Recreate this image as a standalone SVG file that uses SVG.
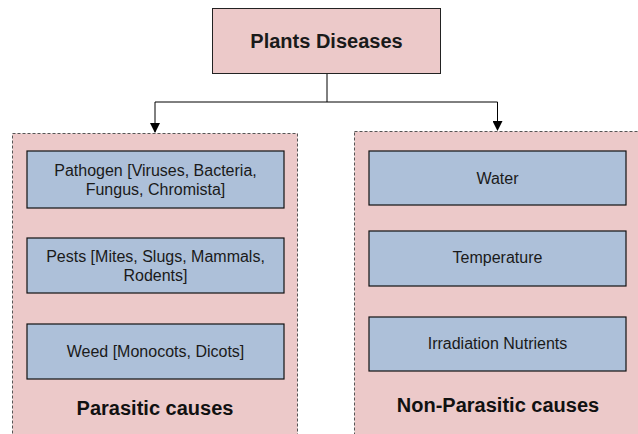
<svg xmlns="http://www.w3.org/2000/svg" width="638" height="434" viewBox="0 0 638 434">
<style>
.title{font-family:"Liberation Sans",Arial,sans-serif;font-weight:bold;font-size:20px;fill:#1a1a1a;text-anchor:middle}
.grp{fill:#ecc9c9;stroke:#555;stroke-width:1;stroke-dasharray:3,2}
.item{fill:#adc0d9;stroke:#111;stroke-width:1.2}
.t{font-family:"Liberation Sans",Arial,sans-serif;font-size:16px;fill:#1a1a1a;text-anchor:middle}
.lbl{font-family:"Liberation Sans",Arial,sans-serif;font-weight:bold;font-size:20px;fill:#111;text-anchor:middle}
.conn{fill:none;stroke:#000;stroke-width:1}
</style>
<defs>
<marker id="arr" markerWidth="10" markerHeight="10" refX="9" refY="5" orient="auto" markerUnits="userSpaceOnUse">
<path d="M0,0 L10,5 L0,10 z" fill="#000"/>
</marker>
</defs>
<g id="connectors">
<path class="conn" d="M327,73 V102 H155 V132" marker-end="url(#arr)"/>
<path class="conn" d="M327,102 H497.5 V130" marker-end="url(#arr)"/>
</g>
<g id="root">
<rect x="212.5" y="8.5" width="228" height="65" fill="#ecc9c9" stroke="#222" stroke-width="1"/>
<text class="title" x="326.5" y="48">Plants Diseases</text>
</g>
<g id="parasitic">
<rect class="grp" x="12.5" y="133.5" width="285" height="310"/>
<text class="lbl" x="155" y="415">Parasitic causes</text>
</g>
<g id="pathogen">
<rect class="item" x="27" y="151" width="257" height="57"/>
<text class="t" x="155.5" y="176">Pathogen [Viruses, Bacteria,</text>
<text class="t" x="155.5" y="195">Fungus, Chromista]</text>
</g>
<g id="pests">
<rect class="item" x="27" y="238" width="257" height="55"/>
<text class="t" x="155.5" y="262">Pests [Mites, Slugs, Mammals,</text>
<text class="t" x="155.5" y="281">Rodents]</text>
</g>
<g id="weed">
<rect class="item" x="27" y="324" width="257" height="55"/>
<text class="t" x="155.5" y="357">Weed [Monocots, Dicots]</text>
</g>
<g id="nonparasitic">
<rect class="grp" x="354.5" y="131.5" width="290" height="312"/>
<text class="lbl" x="498" y="412">Non-Parasitic causes</text>
</g>
<g id="water">
<rect class="item" x="369" y="151" width="257" height="54"/>
<text class="t" x="497.5" y="184">Water</text>
</g>
<g id="temperature">
<rect class="item" x="369" y="231" width="257" height="55"/>
<text class="t" x="497.5" y="263">Temperature</text>
</g>
<g id="irradiation">
<rect class="item" x="369" y="317" width="257" height="54"/>
<text class="t" x="497.5" y="349">Irradiation Nutrients</text>
</g>
</svg>
